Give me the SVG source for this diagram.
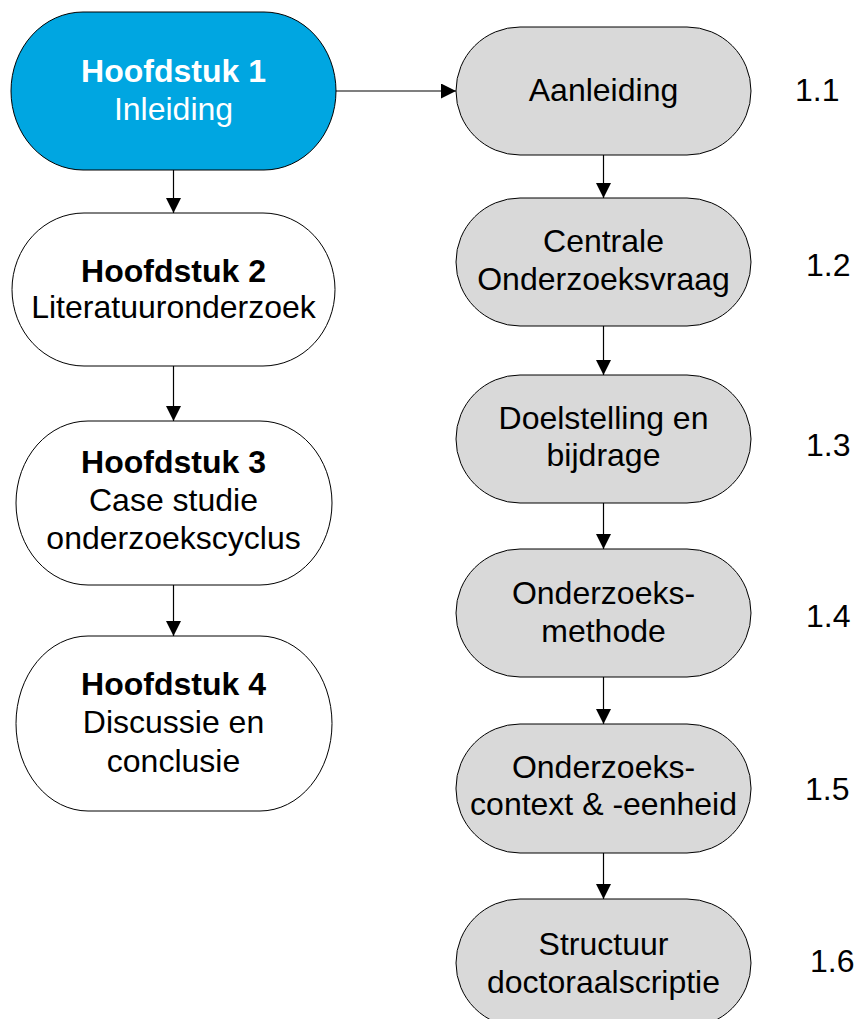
<svg xmlns="http://www.w3.org/2000/svg" width="855" height="1019" viewBox="0 0 855 1019">
  <style>
    .node { stroke: #000; stroke-width: 1; }
    .chapter { fill: #ffffff; }
    .current { fill: #00A6E1; }
    .section { fill: #D9D9D9; }
    text { font-family: "Liberation Sans", Arial, sans-serif; font-size: 32px; fill: #000; }
    .mid { text-anchor: middle; }
    .bold { font-weight: bold; }
    .light { fill: #ffffff; }
    .conn { stroke: #000; stroke-width: 1.2; fill: none; marker-end: url(#arrow); }
  </style>
  <defs>
    <marker id="arrow" markerUnits="userSpaceOnUse" markerWidth="15" markerHeight="15" viewBox="0 0 15 15" refX="15" refY="7.5" orient="auto">
      <path d="M0,0 L15,7.5 L0,15 z" fill="#000"/>
    </marker>
  </defs>

  <rect width="855" height="1019" fill="#ffffff"/>

  <!-- connectors -->
  <g id="connectors">
    <line class="conn" x1="336" y1="91" x2="456" y2="91"/>
    <line class="conn" x1="173.5" y1="170" x2="173.5" y2="213"/>
    <line class="conn" x1="173.5" y1="366" x2="173.5" y2="421"/>
    <line class="conn" x1="173.5" y1="585" x2="173.5" y2="636"/>
    <line class="conn" x1="603.5" y1="155" x2="603.5" y2="198"/>
    <line class="conn" x1="603.5" y1="326" x2="603.5" y2="375"/>
    <line class="conn" x1="603.5" y1="503" x2="603.5" y2="549"/>
    <line class="conn" x1="603.5" y1="677" x2="603.5" y2="724"/>
    <line class="conn" x1="603.5" y1="853" x2="603.5" y2="899"/>
  </g>

  <!-- chapters -->
  <g id="h1">
    <rect class="node current" x="11" y="12" width="325" height="158" rx="72" ry="79"/>
    <text class="mid bold light" x="173.5" y="82">Hoofdstuk 1</text>
    <text class="mid light" x="173.5" y="120">Inleiding</text>
  </g>
  <g id="h2">
    <rect class="node chapter" x="12" y="213" width="323" height="153" rx="72" ry="76.5"/>
    <text class="mid bold" x="173.5" y="282">Hoofdstuk 2</text>
    <text class="mid" x="173.5" y="318">Literatuuronderzoek</text>
  </g>
  <g id="h3">
    <rect class="node chapter" x="16" y="421" width="316" height="164" rx="72" ry="82"/>
    <text class="mid bold" x="173.5" y="473">Hoofdstuk 3</text>
    <text class="mid" x="173.5" y="511">Case studie</text>
    <text class="mid" x="173.5" y="549">onderzoekscyclus</text>
  </g>
  <g id="h4">
    <rect class="node chapter" x="16" y="636" width="316" height="175" rx="72" ry="87.5"/>
    <text class="mid bold" x="173.5" y="695">Hoofdstuk 4</text>
    <text class="mid" x="173.5" y="733">Discussie en</text>
    <text class="mid" x="173.5" y="772">conclusie</text>
  </g>

  <!-- sections of chapter 1 -->
  <g id="s1">
    <rect class="node section" x="456" y="27" width="295" height="128" rx="64" ry="64"/>
    <text class="mid" x="603.5" y="101">Aanleiding</text>
    <text x="795" y="101">1.1</text>
  </g>
  <g id="s2">
    <rect class="node section" x="456" y="198" width="295" height="128" rx="64" ry="64"/>
    <text class="mid" x="603.5" y="252">Centrale</text>
    <text class="mid" x="603.5" y="290">Onderzoeksvraag</text>
    <text x="806" y="276">1.2</text>
  </g>
  <g id="s3">
    <rect class="node section" x="456" y="375" width="295" height="128" rx="64" ry="64"/>
    <text class="mid" x="603.5" y="429">Doelstelling en</text>
    <text class="mid" x="603.5" y="466">bijdrage</text>
    <text x="806" y="456">1.3</text>
  </g>
  <g id="s4">
    <rect class="node section" x="456" y="549" width="295" height="128" rx="64" ry="64"/>
    <text class="mid" x="603.5" y="604">Onderzoeks-</text>
    <text class="mid" x="603.5" y="642">methode</text>
    <text x="806" y="627">1.4</text>
  </g>
  <g id="s5">
    <rect class="node section" x="456" y="724" width="295" height="129" rx="64" ry="64"/>
    <text class="mid" x="603.5" y="778">Onderzoeks-</text>
    <text class="mid" x="603.5" y="815">context &amp; -eenheid</text>
    <text x="805" y="800">1.5</text>
  </g>
  <g id="s6">
    <rect class="node section" x="456" y="899" width="295" height="128" rx="64" ry="64"/>
    <text class="mid" x="603.5" y="955">Structuur</text>
    <text class="mid" x="603.5" y="993">doctoraalscriptie</text>
    <text x="810" y="972">1.6</text>
  </g>
</svg>
